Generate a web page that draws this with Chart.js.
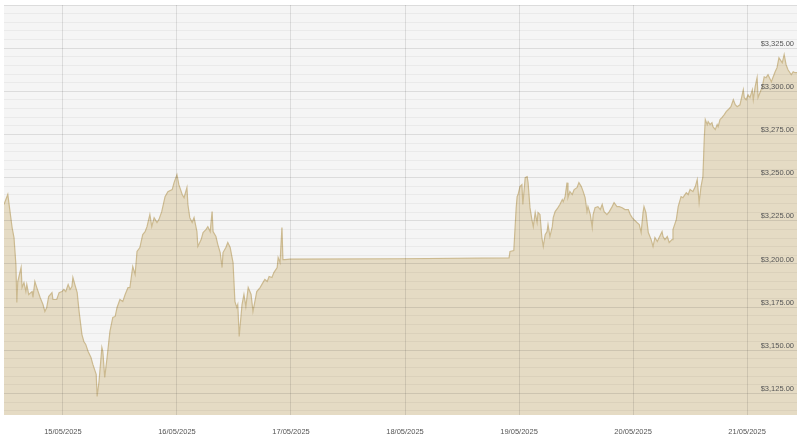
<!DOCTYPE html>
<html>
<head>
<meta charset="utf-8">
<title>Gold price</title>
<script src="https://cdn.jsdelivr.net/npm/chart.js@4.4.1/dist/chart.umd.min.js"></script>
<style>
  html, body { margin: 0; padding: 0; background: #fff; }
</style>
</head>
<body>
<canvas id="myChart" width="800" height="441"></canvas>
<script>
// Gold spot price, 14/05 - 21/05/2025 (hours counted from 15/05/2025 00:00)

const dateLabels = ['15/05/2025', '16/05/2025', '17/05/2025', '18/05/2025', '19/05/2025', '20/05/2025', '21/05/2025'];
const priceLabels = [3125, 3150, 3175, 3200, 3225, 3250, 3275, 3300, 3325];

const hours = [
    -12.4, -11.6, -10.7, -10.3, -9.9, -9.7, -9.5, -8.8, -8.6, -8.2, -7.8, -7.6, -7.2, -6.5, -6.3, -5.9, -5.5, -4.8, -4.2, -3.8,
    -3.4, -3.0, -2.3, -2.1, -1.3, -0.8, -0.2, 0.2, 0.6, 1.1, 1.5, 1.9, 2.1, 2.5, 3.0, 3.4, 4.0, 4.4, 4.8, 5.3,
    5.9, 6.3, 7.0, 7.2, 7.6, 8.2, 8.4, 8.8, 9.3, 9.9, 10.5, 11.0, 11.4, 12.0, 12.6, 13.1, 13.7, 14.1, 14.7, 15.2,
    15.6, 16.2, 16.8, 17.3, 17.7, 18.3, 18.7, 19.2, 19.8, 20.2, 20.8, 21.5, 22.1, 23.0, 23.4, 24.0, 24.4, 25.1, 25.5, 26.1,
    26.3, 26.7, 27.2, 27.6, 28.2, 28.4, 29.1, 29.5, 30.1, 30.5, 31.0, 31.4, 31.6, 32.2, 32.6, 33.1, 33.5, 33.7, 34.3, 34.7,
    35.2, 35.6, 35.8, 36.2, 36.6, 36.8, 37.1, 37.7, 38.1, 38.5, 39.0, 39.6, 40.0, 40.4, 40.8, 41.5, 42.1, 42.5, 43.0, 43.4,
    44.0, 44.4, 45.1, 45.3, 45.7, 46.1, 46.3, 46.7, 47.8, 70.9, 93.9, 94.1, 94.9, 95.4, 95.6, 95.8, 96.2, 96.6, 96.8, 97.3,
    97.7, 97.9, 98.3, 98.7, 99.0, 99.4, 99.8, 100.0, 100.4, 100.8, 101.1, 101.5, 101.9, 102.1, 102.5, 103.0, 103.2, 103.6, 104.2, 104.6,
    105.1, 105.3, 105.7, 106.1, 106.3, 106.7, 107.2, 107.6, 108.2, 108.6, 109.1, 109.5, 109.9, 110.3, 110.5, 111.0, 111.4, 111.6, 112.0, 112.6,
    113.1, 113.5, 113.9, 114.5, 115.0, 115.6, 116.0, 116.6, 117.1, 117.7, 118.3, 119.0, 119.4, 119.8, 120.2, 120.8, 121.3, 121.7, 122.1, 122.3,
    122.7, 123.2, 123.8, 124.2, 124.6, 125.1, 125.5, 126.1, 126.3, 126.7, 127.2, 127.6, 128.2, 128.4, 129.1, 129.5, 130.1, 130.5, 131.2, 131.6,
    132.0, 132.6, 133.1, 133.5, 133.9, 134.3, 134.7, 135.0, 135.2, 135.6, 135.8, 136.2, 136.6, 136.8, 137.3, 137.7, 137.9, 138.3, 138.7, 139.2,
    139.6, 140.0, 140.6, 141.1, 141.5, 141.9, 142.5, 143.2, 143.4, 143.8, 144.2, 144.6, 145.1, 145.3, 145.7, 146.1, 146.3, 146.7, 147.2, 147.6,
    148.0, 148.4, 149.1, 149.5, 149.9, 150.3, 150.7, 151.4, 151.8, 152.2, 152.6, 153.3, 153.7, 154.1, 154.5
];

const prices = [
    3234.4, 3240.2, 3221.1, 3215.3, 3199.6, 3177.7, 3189.8, 3197.9, 3186.3, 3189.2, 3184.0, 3188.1, 3182.3, 3184.0, 3180.6, 3189.8, 3186.3, 3180.6, 3176.5, 3172.5,
    3174.8, 3181.1, 3183.4, 3179.4, 3179.4, 3183.4, 3184.0, 3185.2, 3184.0, 3188.1, 3185.2, 3186.9, 3192.1, 3188.1, 3183.4, 3172.5, 3159.1, 3155.1, 3153.4, 3149.3,
    3145.8, 3141.8, 3136.0, 3123.3, 3131.9, 3151.6, 3149.3, 3134.3, 3145.8, 3160.9, 3169.0, 3169.6, 3174.8, 3179.4, 3178.2, 3182.3, 3186.3, 3186.3, 3198.5, 3193.9,
    3207.2, 3209.5, 3217.0, 3218.7, 3221.6, 3228.6, 3221.6, 3226.8, 3224.0, 3225.7, 3230.3, 3239.0, 3241.9, 3243.1, 3247.1, 3251.7, 3245.9, 3240.2, 3238.4, 3244.2,
    3234.4, 3226.8, 3224.0, 3226.8, 3218.7, 3210.1, 3214.1, 3218.2, 3219.9, 3221.6, 3218.7, 3230.3, 3218.7, 3215.9, 3211.2, 3206.6, 3197.9, 3206.6, 3209.5, 3212.4,
    3209.5, 3203.7, 3200.8, 3178.2, 3174.8, 3176.5, 3158.0, 3176.5, 3182.3, 3175.3, 3186.3, 3182.3, 3172.5, 3178.2, 3184.0, 3186.3, 3189.2, 3191.0, 3189.8, 3192.7,
    3192.1, 3195.0, 3197.9, 3203.7, 3200.8, 3221.1, 3202.5, 3202.5, 3202.8, 3203.0, 3203.5, 3207.2, 3207.8, 3232.6, 3239.0, 3240.2, 3244.8, 3245.9, 3234.4, 3250.0,
    3250.6, 3247.1, 3232.6, 3225.7, 3221.6, 3229.7, 3224.0, 3229.7, 3228.6, 3215.3, 3210.1, 3217.0, 3218.7, 3222.8, 3215.9, 3221.6, 3226.8, 3230.3, 3232.6, 3234.4,
    3237.3, 3236.1, 3239.0, 3247.1, 3238.4, 3241.9, 3240.2, 3243.1, 3244.2, 3247.1, 3244.8, 3241.9, 3238.4, 3230.3, 3233.2, 3228.6, 3221.1, 3228.6, 3232.6, 3233.2,
    3231.5, 3234.4, 3230.3, 3228.6, 3230.3, 3233.2, 3235.5, 3233.2, 3233.2, 3232.6, 3231.5, 3231.5, 3228.6, 3226.8, 3225.7, 3224.0, 3222.8, 3218.2, 3229.7, 3233.2,
    3229.7, 3218.2, 3214.1, 3210.1, 3215.3, 3213.0, 3215.3, 3218.7, 3215.9, 3214.1, 3215.9, 3212.4, 3214.1, 3219.9, 3225.7, 3233.2, 3239.0, 3238.4, 3241.3, 3240.2,
    3243.1, 3241.9, 3244.8, 3248.8, 3235.5, 3244.8, 3250.6, 3273.7, 3283.6, 3280.7, 3282.4, 3280.7, 3281.8, 3279.5, 3277.8, 3280.7, 3279.5, 3283.6, 3284.7, 3286.5,
    3288.2, 3289.3, 3291.1, 3295.1, 3292.2, 3291.1, 3292.2, 3300.9, 3296.3, 3295.1, 3298.0, 3296.3, 3300.9, 3295.1, 3302.7, 3307.9, 3296.3, 3299.2, 3302.7, 3308.4,
    3307.9, 3309.6, 3305.6, 3308.4, 3311.3, 3313.7, 3319.4, 3316.5, 3321.2, 3315.4, 3312.5, 3309.6, 3311.3, 3310.8, 3310.8
];

window.addEventListener('load', setup);

// grey plot background behind the area
const plotBackground = {
    id: 'plotBackground',
    beforeDraw(chart) {
        const {ctx, chartArea} = chart;
        ctx.save();
        ctx.fillStyle = '#f5f5f5';
        ctx.fillRect(chartArea.left, chartArea.top, chartArea.right - chartArea.left, chartArea.bottom - chartArea.top);
        ctx.restore();
    }
};

function formatPrice(v) {
    return '$' + v.toLocaleString('en-US', {minimumFractionDigits: 2, maximumFractionDigits: 2});
}

function setup() {
    const ctx = document.getElementById('myChart').getContext('2d');
    const points = hours.map((h, i) => ({x: h, y: prices[i]}));
    const dayTicks = dateLabels.map((d, i) => i * 24);
    const yMin = 3112.5;
    const yMax = 3350;

    const myChart = new Chart(ctx, {
        type: 'line',
        data: {
            datasets: [{
                label: 'Gold',
                data: points,
                fill: 'start',
                borderColor: '#ccba90',
                backgroundColor: '#e5dbc4',
                borderWidth: 1.2,
                pointRadius: 0,
                tension: 0
            }]
        },
        options: {
            responsive: false,
            animation: false,
            layout: {padding: {left: 4, top: 5, right: 3, bottom: 5}},
            plugins: {
                legend: {display: false},
                tooltip: {enabled: false}
            },
            scales: {
                x: {
                    type: 'linear',
                    min: -12.4,
                    max: 154.5,
                    afterBuildTicks: scale => {
                        scale.ticks = dayTicks.map(v => ({value: v}));
                    },
                    afterFit: scale => {
                        scale.height = 21;
                        scale.paddingLeft = 0;
                        scale.paddingRight = 0;
                    },
                    ticks: {
                        autoSkip: false,
                        maxRotation: 0,
                        padding: 12,
                        color: '#555',
                        font: {family: 'Liberation Sans, Arial, sans-serif', size: 7.5},
                        callback: v => dateLabels[Math.round(v / 24)]
                    },
                    grid: {
                        z: 1,
                        drawTicks: false,
                        color: 'rgba(0,0,0,0.1)'
                    },
                    border: {display: false}
                },
                y: {
                    position: 'right',
                    min: yMin,
                    max: yMax,
                    afterBuildTicks: scale => {
                        const t = [];
                        for (let v = 3115; v <= yMax; v += 5) t.push({value: v});
                        scale.ticks = t;
                    },
                    afterFit: scale => {
                        scale.width = 0;
                        scale.paddingTop = 0;
                        scale.paddingBottom = 0;
                    },
                    ticks: {
                        z: 2,
                        mirror: true,
                        autoSkip: false,
                        padding: -3,
                        labelOffset: -4.5,
                        color: '#555',
                        font: {family: 'Liberation Sans, Arial, sans-serif', size: 7.5},
                        callback: v => priceLabels.includes(v) ? formatPrice(v) : ''
                    },
                    grid: {
                        z: 1,
                        drawTicks: false,
                        color: c => (c.tick.value % 25 === 0) ? 'rgba(0,0,0,0.1)' : 'rgba(0,0,0,0.045)'
                    },
                    border: {display: false}
                }
            }
        },
        plugins: [plotBackground]
    });
}
</script>
</body>
</html>
